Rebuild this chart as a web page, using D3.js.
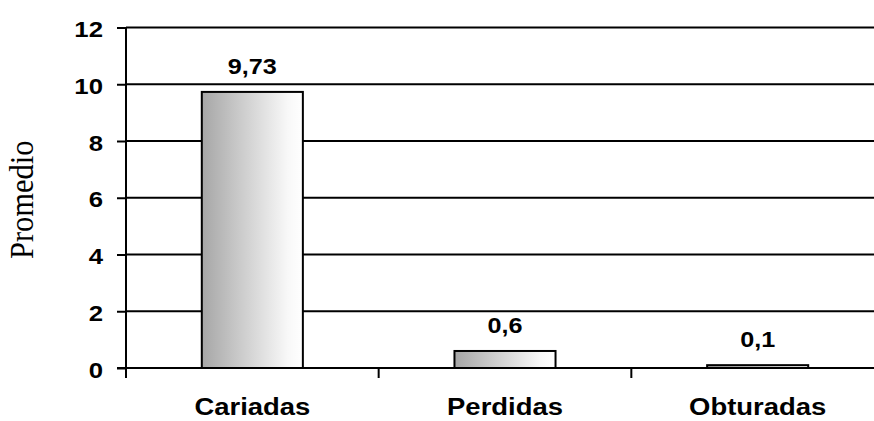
<!DOCTYPE html>
<html>
<head>
<meta charset="utf-8">
<script src="https://cdn.jsdelivr.net/npm/d3@7"></script>
<style>
  html, body { margin: 0; padding: 0; background: #fff; }
  svg { display: block; }
</style>
</head>
<body>
<svg id="chart" width="874" height="421"></svg>
<script>
// Promedio de piezas cariadas, perdidas y obturadas
const categories = ["Cariadas", "Perdidas", "Obturadas"];
const values = [9.73, 0.6, 0.1];
const valueLabels = ["9,73", "0,6", "0,1"];
const yTicks = [0, 2, 4, 6, 8, 10, 12];
const yTitle = "Promedio";

const svg = d3.select("#chart");
const plotLeft = 126, plotRight = 884, plotTop = 27.5, plotBottom = 368;
const sansFont = "'Liberation Sans', Arial, sans-serif";
const textStretch = 1.12; // horizontally widened lettering

const x = d3.scaleBand().domain(categories).range([plotLeft, plotRight]).padding(0);
const y = d3.scaleLinear().domain([0, 12]).range([plotBottom, plotTop]);
const barW = x.bandwidth() * 0.4;

// bar fill: grey at the left fading to white
const grad = svg.append("defs").append("linearGradient")
  .attr("id", "barFill").attr("x1", "0%").attr("x2", "100%").attr("y1", "0%").attr("y2", "0%");
grad.append("stop").attr("offset", "0%").attr("stop-color", "#a6a6a6");
grad.append("stop").attr("offset", "35%").attr("stop-color", "#c8c8c8");
grad.append("stop").attr("offset", "85%").attr("stop-color", "#f8f8f8");
grad.append("stop").attr("offset", "100%").attr("stop-color", "#ffffff");

// horizontal gridlines
svg.append("g").selectAll("line").data(yTicks.filter(d => d > 0)).join("line")
  .attr("x1", plotLeft).attr("x2", plotRight)
  .attr("y1", d => y(d)).attr("y2", d => y(d))
  .attr("stroke", "#000").attr("stroke-width", 2);

// bars
svg.append("g").selectAll("rect").data(values).join("rect")
  .attr("x", (d, i) => x(categories[i]) + (x.bandwidth() - barW) / 2)
  .attr("width", barW)
  .attr("y", d => y(d))
  .attr("height", d => y(0) - y(d))
  .attr("fill", "url(#barFill)")
  .attr("stroke", "#000").attr("stroke-width", 2);

// y axis
const yAxis = svg.append("g").attr("transform", `translate(${plotLeft},0)`)
  .call(d3.axisLeft(y).tickValues(yTicks).tickSize(9).tickFormat(d3.format("d")));
yAxis.select(".domain").attr("stroke", "#000").attr("stroke-width", 2).attr("d", `M0,${plotTop}V${plotBottom + 10}`);
yAxis.selectAll(".tick line").attr("stroke", "#000").attr("stroke-width", 2);
yAxis.selectAll(".tick text")
  .attr("x", null).attr("dy", null)
  .attr("transform", `translate(-23,9) scale(${textStretch},1)`)
  .attr("font-family", sansFont)
  .attr("font-weight", "bold").attr("font-size", 23).attr("fill", "#000");

// x axis baseline and between-category ticks
svg.append("line").attr("x1", plotLeft - 9).attr("x2", plotRight)
  .attr("y1", y(0)).attr("y2", y(0)).attr("stroke", "#000").attr("stroke-width", 2);
svg.append("g").selectAll("line").data(categories.slice(1)).join("line")
  .attr("x1", d => x(d)).attr("x2", d => x(d))
  .attr("y1", y(0)).attr("y2", y(0) + 10)
  .attr("stroke", "#000").attr("stroke-width", 2);

// category labels
svg.append("g").selectAll("text").data(categories).join("text")
  .attr("transform", d => `translate(${x(d) + x.bandwidth() / 2},415) scale(${textStretch},1)`)
  .attr("text-anchor", "middle")
  .attr("font-family", sansFont)
  .attr("font-weight", "bold").attr("font-size", 24.5).attr("fill", "#000")
  .text(d => d);

// value labels
svg.append("g").selectAll("text").data(values).join("text")
  .attr("transform", (d, i) => `translate(${x(categories[i]) + x.bandwidth() / 2},${y(d) - 18}) scale(${textStretch},1)`)
  .attr("text-anchor", "middle")
  .attr("font-family", sansFont)
  .attr("font-weight", "bold").attr("font-size", 22.5).attr("fill", "#000")
  .text((d, i) => valueLabels[i]);

// y title
svg.append("text")
  .attr("transform", `translate(33,${(plotTop + plotBottom) / 2 + 2}) rotate(-90) scale(1,${textStretch})`)
  .attr("text-anchor", "middle")
  .attr("font-family", "'Liberation Serif', 'Times New Roman', serif")
  .attr("font-size", 30.5).attr("fill", "#000")
  .text(yTitle);
</script>
</body>
</html>
